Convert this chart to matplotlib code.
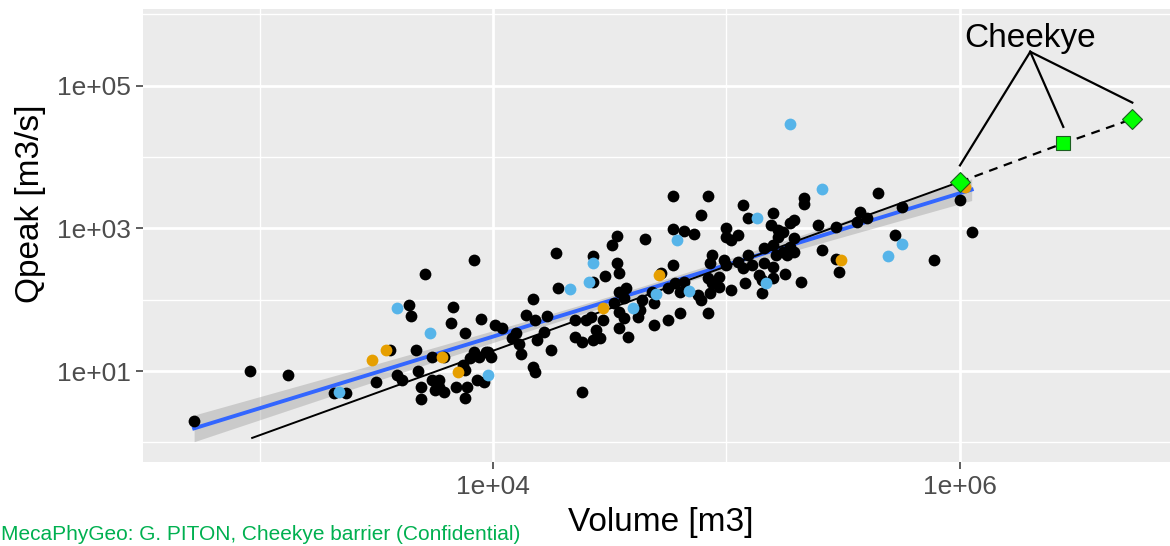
import numpy as np
import matplotlib
matplotlib.use('Agg')
import matplotlib.pyplot as plt

# log10 values: Volume [m3] and Qpeak [m3/s]
black_logv = [2.72, 2.96, 3.12, 3.32, 3.37, 3.56, 3.50, 3.59, 3.61, 3.64, 3.65, 3.67, 3.68, 3.69, 3.69,
              3.71, 3.74, 3.74, 3.77, 3.77, 3.75, 3.79, 3.79, 3.82, 3.83, 3.84, 3.87, 3.88, 3.88, 3.89,
              3.88, 3.90, 3.92, 3.93, 3.94, 3.95, 3.96, 3.97, 3.98, 3.99, 3.92, 4.01, 4.04, 4.10, 4.08,
              4.11, 4.12, 4.17, 4.14, 4.18, 4.23, 4.19, 4.22, 4.25, 4.17, 4.18, 4.27, 4.28, 4.35, 4.40,
              4.42, 4.35, 4.38, 4.43, 4.38, 4.43, 4.43, 4.44, 4.46, 4.47, 4.48, 4.51, 4.53, 4.53, 4.54,
              4.57, 4.54, 4.56, 4.52, 4.54, 4.56, 4.54, 4.58, 4.62, 4.63, 4.64, 4.65, 4.68, 4.69, 4.69,
              4.72, 4.75, 4.75, 4.77, 4.77, 4.77, 4.78, 4.80, 4.80, 4.82, 4.82, 4.86, 4.88, 4.89, 4.89,
              4.92, 4.92, 4.92, 4.93, 4.93, 4.94, 4.94, 4.97, 4.97, 4.99, 5.00, 5.00, 5.00, 5.02, 5.02,
              5.05, 5.05, 5.07, 5.07, 5.08, 5.09, 5.09, 5.11, 5.14, 5.15, 5.15, 5.16, 5.19, 5.20, 5.20,
              5.20, 5.22, 5.22, 5.24, 5.25, 5.26, 5.27, 5.27, 5.29, 5.29, 5.29, 5.32, 5.33, 5.33, 5.39,
              5.41, 5.47, 5.47, 5.48, 5.56, 5.57, 5.60, 5.65, 5.72, 5.75, 5.89, 6.00, 6.05, 5.21, 5.16,
              5.20, 5.24]
black_logq = [0.30, 1.00, 0.94, 0.69, 0.69, 1.29, 0.85, 0.94, 0.87, 1.93, 1.77, 1.29, 1.00, 0.78, 0.61,
              2.36, 1.20, 0.87, 0.88, 0.78, 0.73, 0.71, 1.20, 1.67, 1.90, 0.78, 1.08, 1.01, 1.53, 0.78,
              0.62, 1.18, 1.26, 0.87, 1.20, 1.73, 0.85, 1.26, 1.27, 1.20, 2.55, 1.65, 1.60, 1.54, 1.46,
              1.38, 1.24, 2.01, 1.79, 1.71, 1.77, 1.44, 1.55, 1.29, 1.06, 0.99, 2.66, 2.17, 1.71, 1.71,
              1.76, 1.48, 1.40, 1.43, 0.71, 2.61, 2.25, 1.58, 1.46, 1.72, 2.33, 2.77, 2.52, 2.90, 2.37,
              2.16, 2.11, 2.02, 1.95, 1.83, 1.74, 1.61, 1.48, 1.76, 1.86, 2.00, 2.85, 2.11, 1.95, 1.65,
              2.37, 1.72, 2.16, 3.45, 2.99, 2.49, 2.23, 2.11, 1.81, 2.97, 2.25, 2.92, 2.07, 3.19, 2.00,
              1.81, 2.30, 3.45, 2.51, 2.09, 2.63, 2.23, 2.32, 2.18, 2.56, 2.49, 3.00, 2.88, 2.84, 2.13,
              2.91, 2.53, 3.33, 2.44, 2.23, 3.15, 2.63, 2.49, 2.35, 2.28, 2.09, 2.72, 3.05, 2.77, 3.22,
              2.30, 2.98, 2.88, 2.95, 2.36, 2.63, 3.07, 2.74, 3.12, 2.86, 2.67, 2.25, 3.43, 3.34, 3.05,
              2.70, 3.02, 2.57, 2.39, 3.09, 3.23, 3.14, 3.50, 2.91, 3.30, 2.56, 3.40, 2.95, 2.63, 2.51,
              2.46, 2.67]

blue_logv = [3.34, 3.59, 3.73, 3.98, 4.33, 4.43, 4.41, 4.60, 4.70, 4.79, 4.84, 5.13, 5.17, 5.27, 5.41,
             5.75, 5.69]
blue_logq = [0.70, 1.88, 1.53, 0.95, 2.15, 2.52, 2.25, 1.89, 2.08, 2.84, 2.12, 3.14, 2.23, 4.46, 3.55,
             2.78, 2.62]

orange_logv = [3.48, 3.54, 3.78, 3.85, 4.47, 4.71, 5.49, 6.02]
orange_logq = [1.16, 1.29, 1.19, 0.99, 1.89, 2.35, 2.56, 3.58]

# Cheekye scenarios
cheekye_v = [1.0e6, 2.77e6, 5.47e6]
cheekye_q = [4.5e3, 1.56e4, 3.42e4]
cheekye_mk = ['D', 's', 'D']
cheekye_label = 'Cheekye'
label_v, label_q = 2.0e6, 4.6e5
line_top_q = 3.0e5
arrow_gap = 1.7

# empirical relation Q = emp_coef * V**emp_expo (solid up to first Cheekye point)
emp_coef = 3.5e-4
emp_expo = 1.185
emp_vmin = 9.3e2

caption = 'MecaPhyGeo: G. PITON, Cheekye barrier (Confidential)'

fig = plt.figure(figsize=(11.7, 5.46), dpi=100)
ax = fig.add_axes([143/1170, 1-462/546, (1179-143)/1170, (462-9)/546])
ax.set_facecolor('#EBEBEB')
for s in ax.spines.values():
    s.set_visible(False)
ax.set_xscale('log')
ax.set_yscale('log')
ax.set_xlim(10**2.501, 10**6.938)
ax.set_ylim(10**-0.276, 10**6.077)

ax.set_xticks([1e4, 1e6])
ax.set_xticklabels(['1e+04', '1e+06'])
ax.set_xticks([1e3, 1e5], minor=True)
ax.set_yticks([1e1, 1e3, 1e5])
ax.set_yticklabels(['1e+01', '1e+03', '1e+05'])
ax.set_yticks([1e0, 1e2, 1e4, 1e6], minor=True)
ax.xaxis.set_minor_formatter(matplotlib.ticker.NullFormatter())
ax.yaxis.set_minor_formatter(matplotlib.ticker.NullFormatter())
ax.grid(which='major', color='white', lw=2.0)
ax.grid(which='minor', color='white', lw=1.0)
ax.set_axisbelow(True)
ax.tick_params(which='major', length=5, width=1.1, color='#333333', labelcolor='#4D4D4D',
               labelsize=19, pad=4)
ax.tick_params(which='minor', length=0)
for t in ax.get_xticklabels() + ax.get_yticklabels():
    t.set_family('Liberation Sans')

ax.set_xlabel('Volume [m3]', fontsize=24, family='Liberation Sans', labelpad=6)
ax.set_ylabel('Qpeak [m3/s]', fontsize=24, family='Liberation Sans')
ax.yaxis.set_label_coords(-0.094, 0.57)

# linear fit in log-log space with 95% band
lv = np.array(black_logv + blue_logv + orange_logv)
lq = np.array(black_logq + blue_logq + orange_logq)
b, a = np.polyfit(lv, lq, 1)
n = len(lv)
res = lq - (a + b*lv)
sd = np.sqrt(np.sum(res**2)/(n-2))
xs = np.linspace(lv.min(), lv.max(), 80)
se = sd*np.sqrt(1/n + (xs-lv.mean())**2/np.sum((lv-lv.mean())**2))
ys = a + b*xs
ax.fill_between(10**xs, 10**(ys-1.97*se), 10**(ys+1.97*se), color='#999999', alpha=0.4, lw=0, zorder=2)
ax.plot(10**xs, 10**ys, color='#3366FF', lw=2.8, zorder=3)

# empirical relation
ev = np.linspace(np.log10(emp_vmin), np.log10(cheekye_v[0]), 50)
ax.plot(10**ev, emp_coef*(10**ev)**emp_expo, color='black', lw=1.4, zorder=3)

ax.scatter(10**np.array(black_logv), 10**np.array(black_logq), s=72, color='black', lw=0, zorder=4)
ax.scatter(10**np.array(blue_logv), 10**np.array(blue_logq), s=72, color='#56B4E9', lw=0, zorder=5)
ax.scatter(10**np.array(orange_logv), 10**np.array(orange_logq), s=72, color='#E69F00', lw=0, zorder=5)

ax.plot(cheekye_v, cheekye_q, color='black', lw=1.6, ls=(0, (4, 3)), zorder=6)
for v, q, m in zip(cheekye_v, cheekye_q, cheekye_mk):
    ax.plot([v], [q], marker=m, ms=10.5 if m == 's' else 10, mfc='#00FF00', mec='#1B5E20', mew=0.8,
            ls='none', zorder=7)
    ax.plot([label_v, v], [line_top_q, q*arrow_gap], color='black', lw=1.6, zorder=6)
ax.text(label_v, label_q, cheekye_label, fontsize=24, family='Liberation Sans', ha='center', va='center',
        zorder=8)

fig.text(0.001, 1-535/546, caption, fontsize=15, color='#00B050',
         family='Liberation Sans', ha='left', va='center')

fig.savefig('out.png', dpi=100)
